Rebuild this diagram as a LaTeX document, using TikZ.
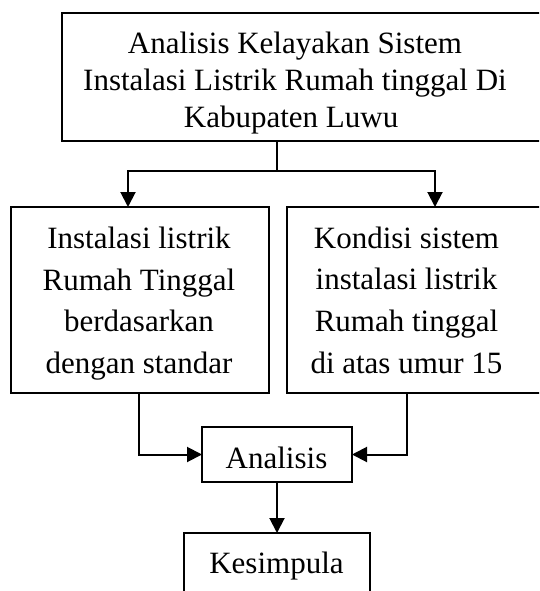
\documentclass[tikz,border=0pt]{standalone}
\usepackage{fontspec}
\setmainfont{Liberation Serif}
\usetikzlibrary{arrows.meta,calc}
\begin{document}
\begin{tikzpicture}[x=1pt,y=1pt,
  box/.style={draw,line width=2pt,rectangle,inner sep=0pt,outer sep=0pt},
  txt/.style={inner sep=0pt,outer sep=0pt,align=center},
  conn/.style={line width=2pt},
  arr/.style={conn,-{Triangle[length=15pt,width=15pt]}}]
\useasboundingbox (0,0) rectangle (539,-591);
\clip (0,0) rectangle (539,-591);
\fill[white] (0,0) rectangle (539,-591);
% boxes
\node[box,minimum width=488pt,minimum height=128pt] (top) at (306,-76.7) {};
\node[box,minimum width=258pt,minimum height=186pt] (left) at (140,-300) {};
\node[box,minimum width=263pt,minimum height=186pt] (right) at (418.5,-300) {};
\node[box,minimum width=150pt,minimum height=55pt] (ana) at (277,-454.5) {};
\node[box,minimum width=186pt,minimum height=80pt] (kes) at (277,-573) {};
% texts
\node[txt,font=\fontsize{31}{37}\selectfont] (topT) at (295,-83.4)
  {Analisis Kelayakan Sistem\\Instalasi Listrik Rumah tinggal Di\\Kabupaten Luwu\hspace*{7.75pt}};
\node[txt,font=\fontsize{31}{41.7}\selectfont] (leftT) at (139,-303.5)
  {Instalasi listrik\\Rumah Tinggal\\berdasarkan\\dengan standar};
\node[txt,font=\fontsize{31}{41.7}\selectfont] (rightT) at (406.5,-300)
  {Kondisi sistem\\instalasi listrik\\Rumah tinggal\\di atas umur 15};
\node[txt,font=\fontsize{31}{37}\selectfont] (anaT) at (276.5,-457.5) {Analisis};
\node[txt,font=\fontsize{31}{37}\selectfont] (kesT) at (276.5,-566) {Kesimpula};
% connector coordinates
\coordinate (split) at (277,-170.5);
\coordinate (la) at (128,-170.5);
\coordinate (ra) at (435,-170.5);
\coordinate (lb) at (139,-400);
\coordinate (rb) at (407,-400);
% connectors
\draw[conn] (top.south -| ana.north) -- (split);
\draw[arr] (split) -| (la |- left.north);
\draw[arr] (split) -| (ra |- right.north);
\draw[arr] (lb |- left.south) |- (ana.west);
\draw[arr] (rb |- right.south) |- (ana.east);
\draw[arr] (ana.south) -- (kes.north);
\end{tikzpicture}
\end{document}
